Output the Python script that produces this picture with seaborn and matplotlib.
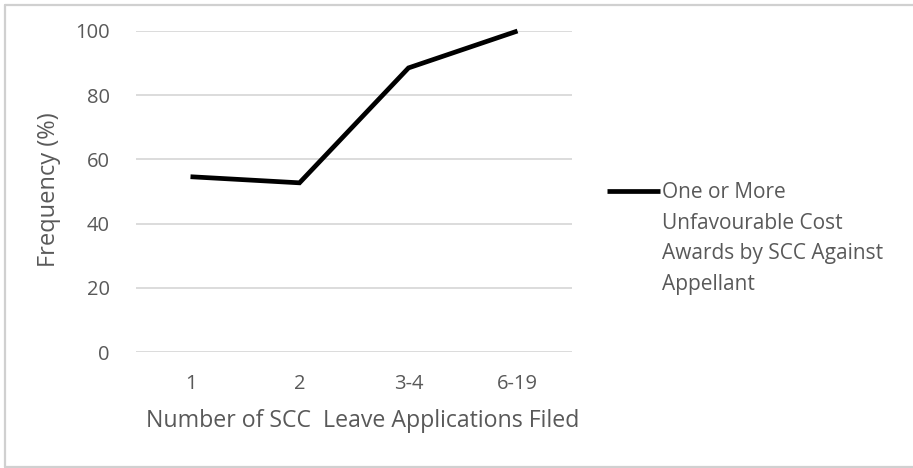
import matplotlib
matplotlib.use("Agg")
import matplotlib.pyplot as plt
import seaborn as sns
import pandas as pd
from matplotlib.lines import Line2D

categories = ["1", "2", "3-4", "6-19"]
values = [54.6, 52.7, 88.5, 100.0]
yticks = [0, 20, 40, 60, 80, 100]
series_name = "One or More\nUnfavourable Cost\nAwards by SCC Against\nAppellant"

sns.set_theme(style="white")
plt.rcParams['font.family'] = ['Open Sans', 'DejaVu Sans']
gray = "#595959"

fig = plt.figure(figsize=(9.13, 4.68), dpi=100)
ax = fig.add_axes([136/913, 1-352/468, (572-136)/913, (352-31)/468])

df = pd.DataFrame({"cat": categories, "val": values})
df["x"] = range(len(categories))
sns.lineplot(data=df, x="x", y="val", ax=ax, color="black", linewidth=3.4,
             clip_on=False, solid_joinstyle="miter", solid_capstyle="butt")

ax.set_xlim(-0.5, len(categories) - 0.5)
ax.set_ylim(0, 100)
ax.set_yticks(yticks)
ax.set_yticklabels([str(t) for t in yticks], fontsize=14.5, color=gray)
ax.set_xticks(range(len(categories)))
ax.set_xticklabels(categories, fontsize=14.5, color=gray)
ax.tick_params(axis="y", length=0, pad=19)
ax.tick_params(axis="x", length=0, pad=16)
ax.grid(axis="y", color="#d9d9d9", linewidth=1.3)
ax.set_axisbelow(True)
for s in ax.spines.values():
    s.set_visible(False)
ax.set_xlabel("Number of SCC  Leave Applications Filed", fontsize=16.7, color=gray)
ax.xaxis.set_label_coords(0.52, -0.178)
ax.set_ylabel("")
fig.text(49/913, 1-190/468, "Frequency (%)", rotation=90, fontsize=17, color=gray,
         ha="center", va="center")

# legend
fig.add_artist(Line2D([607/913, 660/913], [1-191/468, 1-191/468], color="black",
                      linewidth=3.4, solid_capstyle="butt", transform=fig.transFigure))
fig.text(662/913, 1-182/468, series_name, fontsize=15, color=gray, ha="left",
         va="top", linespacing=1.6, transform=fig.transFigure)

# outer frame (right edge runs off the image)
fc = "#d0d0d0"
fig.add_artist(Line2D([5/913, 5/913], [1-5/468, 1-467/468], color=fc, linewidth=1.6,
                      transform=fig.transFigure))
fig.add_artist(Line2D([5/913, 1.0], [1-5/468, 1-5/468], color=fc, linewidth=1.6,
                      transform=fig.transFigure))
fig.add_artist(Line2D([5/913, 1.0], [1-467/468, 1-467/468], color=fc, linewidth=1.6,
                      transform=fig.transFigure))

fig.savefig("out.png", dpi=100)
